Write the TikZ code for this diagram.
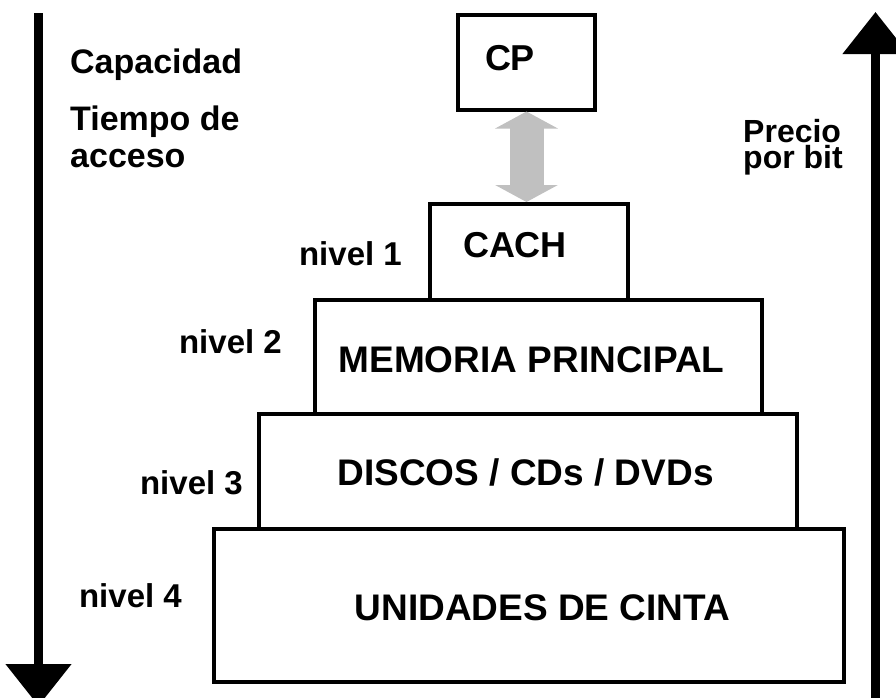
\documentclass[tikz,border=0pt]{standalone}
\usepackage{fontspec}
\setmainfont{Liberation Sans}
\usetikzlibrary{arrows.meta}
\definecolor{busgray}{HTML}{C0C0C0}
\tikzset{
  levelbox/.style={draw=black, line width=4pt, rectangle, inner sep=0pt},
  boxtext/.style={font=\bfseries\fontsize{37}{44}\selectfont, anchor=base, inner sep=0pt},
  smallboxtext/.style={font=\bfseries\fontsize{36}{44}\selectfont, anchor=base, inner sep=0pt},
  sidetext/.style={font=\bfseries\fontsize{34}{40}\selectfont, anchor=base west, inner sep=0pt},
  pricetext/.style={font=\bfseries\fontsize{32}{38}\selectfont, anchor=base west, inner sep=0pt},
  leveltext/.style={font=\bfseries\fontsize{33}{40}\selectfont, anchor=base east, inner sep=0pt},
  sidearrow/.style={line width=8.5pt, -{Triangle[length=42pt,width=64pt]}},
  busarrow/.style={draw=busgray, line width=34pt,
    {Triangle[length=17pt,width=62pt]}-{Triangle[length=17pt,width=62pt]}}
}
\begin{document}
\begin{tikzpicture}[x=1pt,y=-1pt]
\useasboundingbox (0,0) rectangle (896,697);
\fill[white] (0,0) rectangle (896,697);

% boxes
\node[levelbox, minimum width=137pt, minimum height=94.5pt] (cp) at (526.5,62.25) {};
\node[levelbox, minimum width=198.5pt, minimum height=95.5pt] (cach) at (528.75,251.75) {};
\node[levelbox, minimum width=447pt, minimum height=114.5pt] (mem) at (538.5,356.75) {};
\node[levelbox, minimum width=538pt, minimum height=115pt] (disc) at (528,471.5) {};
\node[levelbox, minimum width=630pt, minimum height=153pt] (uni) at (529,605.5) {};

% box texts
\node[smallboxtext] (cptext) at (510,70) {CP};
\node[smallboxtext] (cachtext) at (515,257) {CACH};
\node[boxtext] (memtext) at (531.5,372) {MEMORIA PRINCIPAL};
\node[boxtext] (disctext) at (525.5,485) {DISCOS / CDs / DVDs};
\node[boxtext] (unitext) at (542.5,620) {UNIDADES DE CINTA};

% bus arrow
\draw[busarrow] (cp.south) -- (cp.south |- cach.north);

% side arrows
\coordinate (ltop) at (38.5,13);
\coordinate (lbot) at (38.5,706);
\draw[sidearrow] (ltop) -- (lbot);
\coordinate (rbot) at (875.5,705);
\coordinate (rtop) at (875.5,12);
\draw[sidearrow] (rbot) -- (rtop);

% side labels
\node[sidetext] (capacidad) at (70,73) {Capacidad};
\node[sidetext] (tiempo) at (70,130) {Tiempo de};
\node[sidetext] (acceso) at (70,167) {acceso};
\node[pricetext] (precio) at (743,142) {Precio};
\node[pricetext] (porbit) at (743,168) {por bit};

% level labels
\node[leveltext] (n1) at (402,265) {nivel 1};
\node[leveltext] (n2) at (282,353) {nivel 2};
\node[leveltext] (n3) at (243,494) {nivel 3};
\node[leveltext] (n4) at (182,607) {nivel 4};
\end{tikzpicture}
\end{document}
